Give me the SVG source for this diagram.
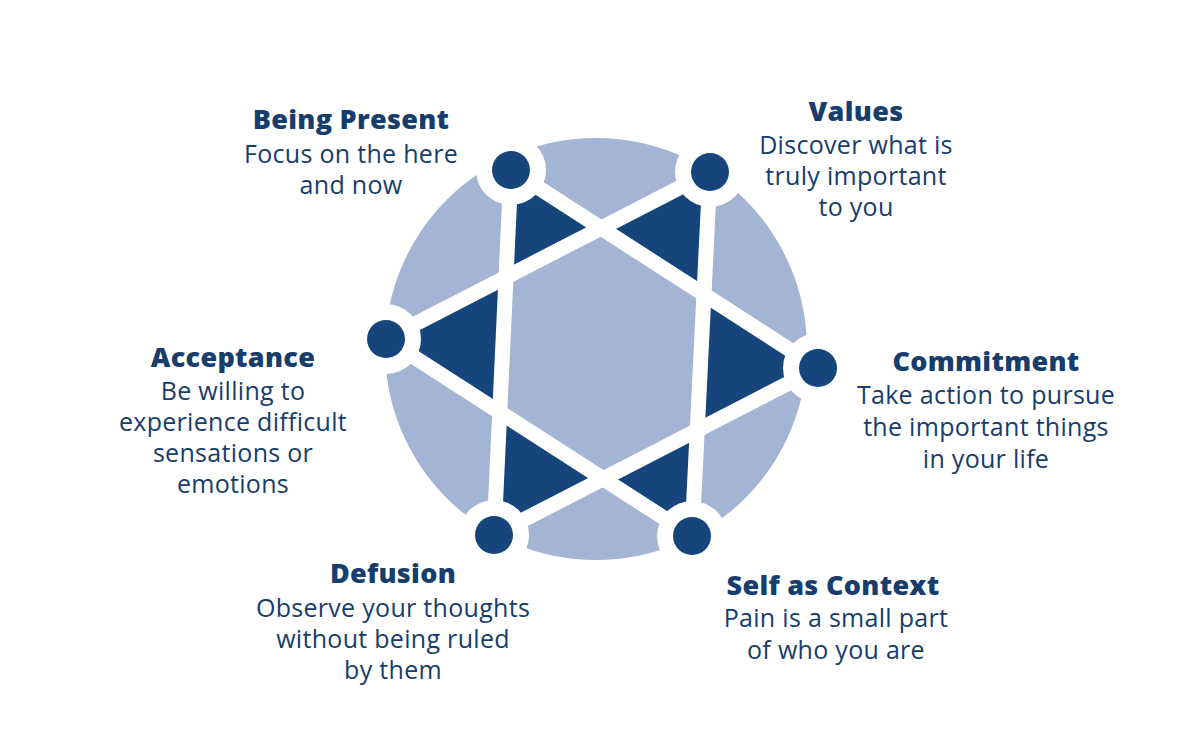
<svg xmlns="http://www.w3.org/2000/svg" width="1200" height="750" viewBox="0 0 1200 750">
<defs>
<style>
.t{font-family:"Open Sans","Noto Sans","Liberation Sans",sans-serif;fill:#163d6b;text-anchor:middle;letter-spacing:0.3px}
.h{font-size:27px;font-weight:800}
.b{font-size:25px;font-weight:400}
.dark{fill:#15457a}
.light{fill:#a4b4d4}
.ln{stroke:#fff;stroke-width:15;stroke-linecap:round;fill:none}
.ring{fill:#fff}
</style>
<clipPath id="clipB"><polygon points="710,172 386,339 692,536"/></clipPath>
</defs>
<rect width="1200" height="750" fill="#fff"/>
<g id="wheel">
<circle class="light" cx="596" cy="349" r="211"/>
<polygon class="dark" points="511,170 818,368 494,535"/>
<polygon class="dark" points="710,172 386,339 692,536"/>
<polygon class="light" points="511,170 818,368 494,535" clip-path="url(#clipB)"/>
</g>
<g id="connectors">
<line class="ln" x1="511" y1="170" x2="818" y2="368"/>
<line class="ln" x1="818" y1="368" x2="494" y2="535"/>
<line class="ln" x1="494" y1="535" x2="511" y2="170"/>
<line class="ln" x1="710" y1="172" x2="386" y2="339"/>
<line class="ln" x1="386" y1="339" x2="692" y2="536"/>
<line class="ln" x1="692" y1="536" x2="710" y2="172"/>
</g>
<g id="being-present">
<circle class="ring" cx="511" cy="170" r="35"/>
<circle class="dark" cx="511" cy="170" r="19"/>
<text class="t h" x="351" y="129">Being Present</text>
<text class="t b" x="351" y="163">Focus on the here</text>
<text class="t b" x="351" y="194">and now</text>
</g>
<g id="values">
<circle class="ring" cx="710" cy="172" r="35"/>
<circle class="dark" cx="710" cy="172" r="19"/>
<text class="t h" x="856" y="121">Values</text>
<text class="t b" x="856" y="154">Discover what is</text>
<text class="t b" x="856" y="185">truly important</text>
<text class="t b" x="856" y="216">to you</text>
</g>
<g id="commitment">
<circle class="ring" cx="818" cy="368" r="35"/>
<circle class="dark" cx="818" cy="368" r="19"/>
<text class="t h" x="986" y="371">Commitment</text>
<text class="t b" x="986" y="404">Take action to pursue</text>
<text class="t b" x="986" y="436">the important things</text>
<text class="t b" x="986" y="468">in your life</text>
</g>
<g id="self-as-context">
<circle class="ring" cx="692" cy="536" r="35"/>
<circle class="dark" cx="692" cy="536" r="19"/>
<text class="t h" x="833" y="595">Self as Context</text>
<text class="t b" x="836" y="627">Pain is a small part</text>
<text class="t b" x="836" y="659">of who you are</text>
</g>
<g id="defusion">
<circle class="ring" cx="494" cy="535" r="35"/>
<circle class="dark" cx="494" cy="535" r="19"/>
<text class="t h" x="393" y="583">Defusion</text>
<text class="t b" x="393" y="617">Observe your thoughts</text>
<text class="t b" x="393" y="648">without being ruled</text>
<text class="t b" x="393" y="679">by them</text>
</g>
<g id="acceptance">
<circle class="ring" cx="386" cy="339" r="35"/>
<circle class="dark" cx="386" cy="339" r="19"/>
<text class="t h" x="233" y="367">Acceptance</text>
<text class="t b" x="233" y="400">Be willing to</text>
<text class="t b" x="233" y="431">experience difficult</text>
<text class="t b" x="233" y="462">sensations or</text>
<text class="t b" x="233" y="493">emotions</text>
</g>
</svg>
